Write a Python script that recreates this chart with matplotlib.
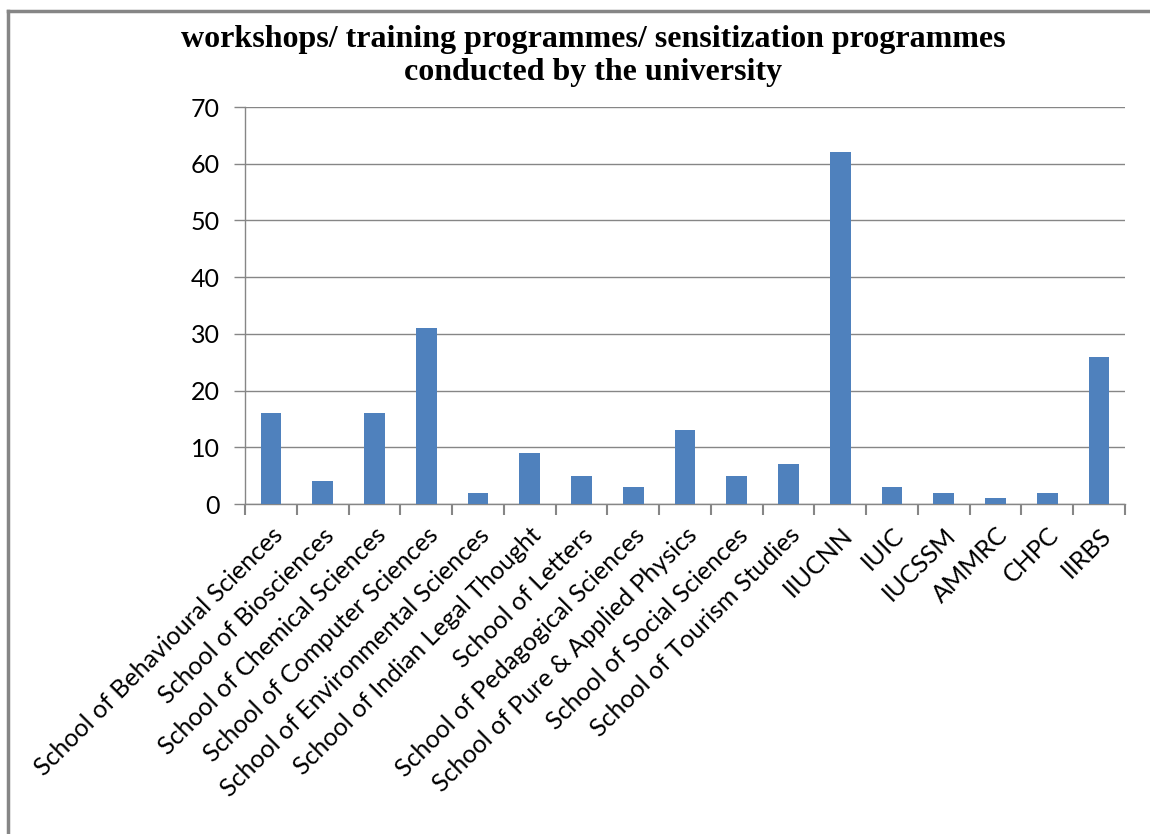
import numpy as np
import matplotlib
matplotlib.use('Agg')
import matplotlib.pyplot as plt
from matplotlib.lines import Line2D

categories = ['School of Behavioural Sciences', 'School of Biosciences',
              'School of Chemical Sciences', 'School of Computer Sciences',
              'School of Environmental Sciences', 'School of Indian Legal Thought',
              'School of Letters', 'School of Pedagogical Sciences',
              'School of Pure & Applied Physics', 'School of Social Sciences',
              'School of Tourism Studies', 'IIUCNN', 'IUIC', 'IUCSSM',
              'AMMRC', 'CHPC', 'IIRBS']
counts = [16, 4, 16, 31, 2, 9, 5, 3, 13, 5, 7, 62, 3, 2, 1, 2, 26]
yticks = [0, 10, 20, 30, 40, 50, 60, 70]
title = 'workshops/ training programmes/ sensitization programmes\nconducted by the university'

W, H = 1150, 834
fig = plt.figure(figsize=(W / 100, H / 100), dpi=100)
ax = fig.add_axes([245 / W, 1 - 504 / H, (1125 - 245) / W, (504 - 107) / H])

x = np.arange(len(categories))
ax.bar(x, counts, width=0.4, color='#4F81BD', zorder=3)
ax.set_xlim(-0.5, len(categories) - 0.5)
ax.set_ylim(0, 70)
ax.set_yticks(yticks)
ax.set_yticklabels([str(v) for v in yticks], fontfamily='Lato', fontsize=18)
ax.yaxis.grid(True, color='#868686', linewidth=1)
ax.tick_params(axis='y', length=8, width=1, color='#868686', pad=10)

# category labels between the boundary ticks
ax.set_xticks(x)
ax.set_xticklabels(categories, rotation=45, ha='right', rotation_mode='anchor',
                   fontfamily='Lato', fontsize=18)
ax.tick_params(axis='x', length=0, pad=14)
ax.set_xticks(np.arange(len(categories) + 1) - 0.5, minor=True)
ax.tick_params(axis='x', which='minor', length=8, width=1.5, color='#868686')

for s in ['top', 'right']:
    ax.spines[s].set_visible(False)
for s in ['left', 'bottom']:
    ax.spines[s].set_color('#868686')
    ax.spines[s].set_linewidth(1)

fig.text(593 / W, 1 - 56 / H, title, ha='center', va='center',
         fontfamily='Liberation Serif', fontweight='bold', fontsize=23,
         linespacing=1.15)

# outer frame (left and top edges)
fig.add_artist(Line2D([8 / W, 8 / W], [0, 1 - 11 / H], transform=fig.transFigure,
                      color='#868686', linewidth=2.5))
fig.add_artist(Line2D([8 / W, 1], [1 - 11 / H, 1 - 11 / H], transform=fig.transFigure,
                      color='#868686', linewidth=2.5))

fig.savefig('out.png', dpi=100)
